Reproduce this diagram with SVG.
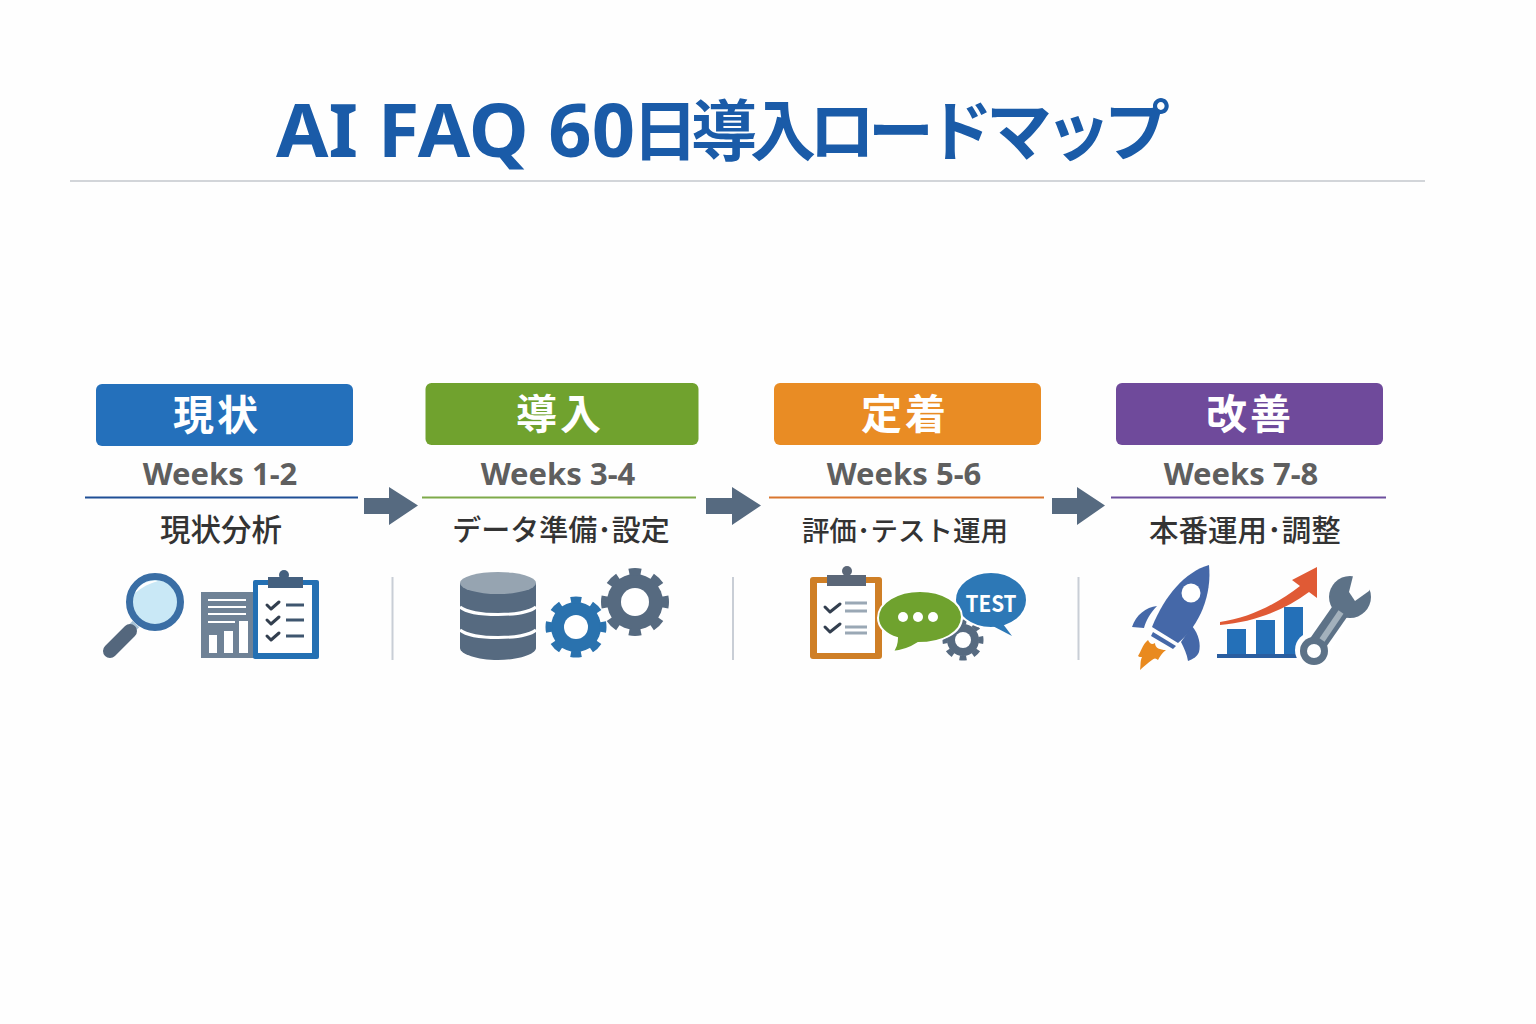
<svg xmlns="http://www.w3.org/2000/svg" width="1536" height="1024" viewBox="0 0 1536 1024">
<style>
text{font-family:"Noto Sans CJK JP","Noto Sans",sans-serif;text-anchor:middle}
.title{font-weight:700;fill:#1a5ba8;text-anchor:start}
.tl{font-family:"Noto Sans","Noto Sans CJK JP",sans-serif;font-size:74px;font-weight:700}
.tj{font-size:66px;font-weight:700;letter-spacing:-7px}
.head{font-size:41px;font-weight:700;fill:#fff;letter-spacing:3px}
.weeks{font-family:"Noto Sans","Noto Sans CJK JP",sans-serif;font-size:31px;font-weight:700;fill:#5f5f5f}
.sub{font-weight:500;fill:#333}
.rule{stroke-width:2;fill:none}
.div{stroke:#c9ced6;stroke-width:2}
.arrow{fill:#566a80}
.chk{fill:none;stroke:#333f4f;stroke-width:3;stroke-linecap:round;stroke-linejoin:round}
.ln{stroke:#3f566f;stroke-width:3}
.ln2{stroke:#9aa8b5;stroke-width:3}
.wh{stroke:#fff;stroke-width:3;fill:none}
.teeth{fill:none;stroke-dasharray:1 1;stroke-dashoffset:.5}
</style>
<rect width="1536" height="1024" fill="#fefefe"/>
<g id="title">
<text class="title" x="276" y="157"><tspan class="tl" textLength="359" lengthAdjust="spacingAndGlyphs">AI FAQ 60</tspan><tspan class="tj" x="632" dy="-2">日導入ロードマップ</tspan></text>
<line x1="70" y1="181" x2="1425" y2="181" stroke="#d2d5d9" stroke-width="2"/>
</g>
<g id="connectors">
<path class="arrow" d="M364 498H389V487L418 505.5 389 525V514H364Z"/>
<path class="arrow" d="M706 498H732V487L761 505.5 732 525V514H706Z"/>
<path class="arrow" d="M1052 498H1077V487L1105 505.5 1077 525V514H1052Z"/>
</g>
<g id="dividers">
<line class="div" x1="392.500" y1="577" x2="392.500" y2="660"/>
<line class="div" x1="733" y1="577" x2="733" y2="660"/>
<line class="div" x1="1078.500" y1="577" x2="1078.500" y2="660"/>
</g>
<g id="node-genjo">
<rect x="96" y="384" width="257" height="62" rx="6" fill="#2470bb"/>
<text class="head" x="217" y="430">現状</text>
<text class="weeks" x="220" y="485">Weeks 1-2</text>
<line class="rule" x1="85" y1="497.500" x2="358" y2="497.500" stroke="#1f4f96"/>
<text class="sub" x="221" y="541" font-size="30.500">現状分析</text>
<circle cx="155" cy="602" r="25.500" fill="#c9e8f6" stroke="#3a6ea5" stroke-width="7"/>
<path d="M135 593C139 584 148 580 158 581 150 583 142 587 135 593Z" fill="#fff"/>
<path d="M136 624L131 629" stroke="#a9c3d6" stroke-width="9"/>
<path d="M130 631L110 651" stroke="#54677d" stroke-width="14" stroke-linecap="round"/>
<rect x="201" y="592" width="55" height="66" fill="#6f8296"/>
<path class="wh" d="M208 600H246M208 607H246M208 614H246M208 622H235" style="stroke-width:2"/>
<path fill="#fff" d="M209 635h8v18h-8zM224 631h9v22h-9zM239 621h9v32h-9z"/>
<rect x="253" y="580" width="66" height="79" rx="2" fill="#2470b3"/>
<rect x="258" y="585" width="54" height="68" fill="#fff"/>
<circle cx="284" cy="575" r="5" fill="#44607f"/>
<rect x="268" y="577" width="35" height="11" fill="#44607f"/>
<path class="chk" d="M267 605l4 4 8-7M267 620l4 4 8-7M267 636l4 4 8-7"/>
<path class="ln" d="M286 605H304M286 620H304M286 636H304"/>
</g>
<g id="node-donyu">
<rect x="425.500" y="383" width="273" height="62" rx="6" fill="#70a22e"/>
<text class="head" x="560" y="429">導入</text>
<text class="weeks" x="558" y="485">Weeks 3-4</text>
<line class="rule" x1="422" y1="497.500" x2="696" y2="497.500" stroke="#7eaa4a"/>
<text class="sub" x="561" y="541" font-size="29">データ準備･設定</text>
<path d="M460 583V648C460 654 477 660 498 660S536 654 536 648V583Z" fill="#566a80"/>
<ellipse cx="498" cy="583" rx="38" ry="11" fill="#96a4b1"/>
<path class="wh" d="M460 607C472 617 524 617 536 607M460 630C472 640 524 640 536 630"/>
<circle cx="576" cy="627" r="25" fill="#2a72ae"/>
<circle class="teeth" cx="576" cy="627" r="27" stroke="#2a72ae" stroke-width="7" pathLength="16"/>
<circle cx="576" cy="627" r="12" fill="#fff"/>
<circle cx="635" cy="602" r="28" fill="#566a80"/>
<circle class="teeth" cx="635" cy="602" r="30.500" stroke="#566a80" stroke-width="7" pathLength="16"/>
<circle cx="635" cy="602" r="14" fill="#fff"/>
</g>
<g id="node-teichaku">
<rect x="774" y="383" width="267" height="62" rx="6" fill="#e98c24"/>
<text class="head" x="905" y="429">定着</text>
<text class="weeks" x="904" y="485">Weeks 5-6</text>
<line class="rule" x1="769" y1="497.500" x2="1044" y2="497.500" stroke="#d9762f"/>
<text class="sub" x="905" y="541" font-size="27.500">評価･テスト運用</text>
<rect x="810" y="577" width="72" height="82" rx="3" fill="#cf7f26"/>
<rect x="817" y="583" width="58" height="70" fill="#fff"/>
<circle cx="847" cy="571" r="5" fill="#5b6778"/>
<rect x="827" y="575" width="39" height="11" fill="#5b6778"/>
<path class="chk" d="M825 607l5 5 10-8M825 627l5 5 10-8"/>
<path class="ln2" d="M845 603H867M845 611H867M845 627H867M845 633H867"/>
<circle cx="963" cy="640" r="16" fill="#566a80"/>
<circle class="teeth" cx="963" cy="640" r="18" stroke="#566a80" stroke-width="5" pathLength="16"/>
<circle cx="963" cy="640" r="8" fill="#fff"/>
<ellipse cx="991" cy="600" rx="36" ry="28" fill="#2d78b6" stroke="#fff" stroke-width="2"/>
<path d="M985 622L1012 636 1000 620Z" fill="#2d78b6"/>
<text x="991" y="612" font-size="23" font-weight="700" fill="#fff" textLength="51" lengthAdjust="spacingAndGlyphs">TEST</text>
<path d="M920 591C898 591 878 602 878 618C878 627 886 635 897 638C897 644 895 649 892 652C903 651 912 647 918 643C942 643 962 633 962 617C962 602 942 591 920 591Z" fill="#6fa22e" stroke="#fff" stroke-width="2"/>
<circle cx="903" cy="617" r="5" fill="#fff"/>
<circle cx="918" cy="617" r="5" fill="#fff"/>
<circle cx="933" cy="617" r="5" fill="#fff"/>
</g>
<g id="node-kaizen">
<rect x="1116" y="383" width="267" height="62" rx="6" fill="#6f4a9b"/>
<text class="head" x="1250" y="429">改善</text>
<text class="weeks" x="1241" y="485">Weeks 7-8</text>
<line class="rule" x1="1111" y1="497.500" x2="1386" y2="497.500" stroke="#6d4f9e"/>
<text class="sub" x="1245" y="541" font-size="29.500">本番運用･調整</text>
<path d="M1209 565C1185 572 1165 595 1152 627L1178 643C1200 625 1212 595 1209 565Z" fill="#4568a8"/>
<path d="M1153 632L1176 646 1173 649 1151 636Z" fill="#4568a8"/>
<circle cx="1191" cy="593" r="9.500" fill="#fff"/>
<path d="M1132 627C1136 615 1146 607 1157 606C1150 613 1146 621 1144 628Z" fill="#4568a8"/>
<path d="M1192 626C1199 634 1201 645 1199 652C1197 657 1193 659 1188 661C1187 654 1184 648 1181 642Z" fill="#4568a8"/>
<path d="M1148 640C1150 644 1152 645 1155 643C1155 648 1160 650 1166 650C1162 653 1160 656 1158 660C1156 658 1154 658 1152 660C1148 663 1144 666 1140 670C1141 664 1140 661 1142 657C1140 657 1139 657 1138 656C1141 652 1142 645 1148 640Z" fill="#e98a1f"/>
<path d="M1227 629h19v25h-19zM1256 620h19v34h-19zM1284 607h19v47h-19z" fill="#2470b8"/>
<rect x="1217" y="654" width="83" height="4" fill="#2a5ea0"/>
<path d="M1220 622C1250 618 1278 603 1300 586L1292 580 1317 567V598L1309 592C1285 610 1255 622 1220 625Z" fill="#e05a35"/>
<path d="M1350 597L1313 653" stroke="#fff" stroke-width="26" fill="none"/>
<circle cx="1313" cy="650" r="18" fill="#fff"/>
<path d="M1350 597L1313 650" stroke="#5d7287" stroke-width="18" fill="none"/>
<circle cx="1350" cy="597" r="21" fill="#5d7287"/>
<path d="M1353 576L1349 592 1355 601 1369 591 1376 579 1368 570Z" fill="#fefefe"/>
<circle cx="1314" cy="651" r="14" fill="#5d7287"/>
<circle cx="1314" cy="651" r="7" fill="#fff"/>
<path d="M1341 612L1322 640" stroke="#a3b1bc" stroke-width="6" fill="none"/>
</g>
</svg>
